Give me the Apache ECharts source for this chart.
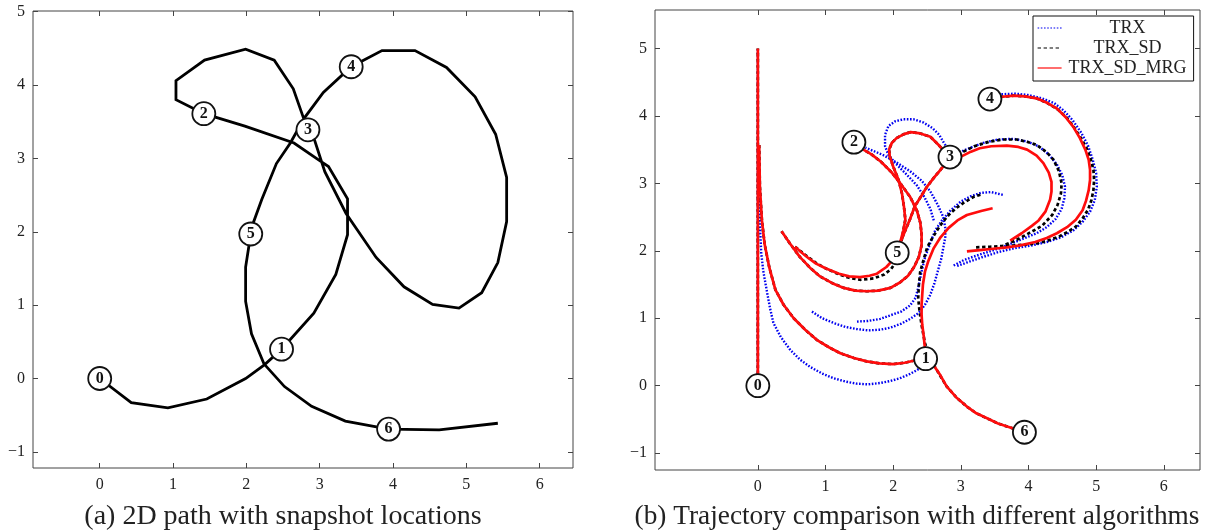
<!DOCTYPE html>
<html>
<head>
<meta charset="utf-8">
<script src="https://cdn.jsdelivr.net/npm/echarts@6/dist/echarts.min.js"></script>
<style>
html,body{margin:0;padding:0;background:#fff}
#chart{width:1209px;height:532px}
</style>
</head>
<body>
<div id="chart"></div>
<script>
// ---- (a) 2D path, snapshot points along it ----
const pathXY = [
  [0,0],[0.43,-0.33],[0.93,-0.40],[1.46,-0.28],[1.99,0.00],[2.25,0.19],[2.48,0.40],
  [2.92,0.89],[3.22,1.42],[3.38,1.96],[3.38,2.45],[3.12,2.89],[3.0,2.97],[2.65,3.21],
  [1.98,3.44],[1.42,3.61],[1.04,3.80],[1.04,4.06],[1.43,4.34],[1.99,4.49],[2.38,4.34],
  [2.64,3.95],[2.78,3.55],[2.84,3.39],[2.93,3.25],[3.07,2.82],[3.36,2.25],[3.77,1.65],
  [4.15,1.25],[4.54,1.01],[4.90,0.96],[5.21,1.17],[5.43,1.58],[5.55,2.14],[5.55,2.74],
  [5.40,3.33],[5.12,3.84],[4.73,4.24],[4.30,4.47],[3.85,4.47],[3.43,4.25],[3.05,3.90],
  [2.79,3.55],[2.60,3.21],[2.41,2.93],[2.21,2.44],[2.09,2.11],[2.06,1.97],[1.99,1.52],
  [1.99,1.05],[2.07,0.61],[2.24,0.20],[2.52,-0.11],[2.89,-0.38],[3.35,-0.58],[3.94,-0.69],
  [4.63,-0.70],[5.43,-0.61]
];
const snapshotLabels = ['0','1','2','3','4','5','6'];
const snapshotXY = [[0,0],[2.48,0.40],[1.42,3.61],[2.84,3.39],[3.43,4.25],[2.06,1.97],[3.94,-0.69]];

// tick values shown on each panel
const xTicksA = [0,1,2,3,4,5,6];
const yTicksA = [-1,0,1,2,3,4,5];
const xTicksB = [0,1,2,3,4,5,6];
const yTicksB = [-1,0,1,2,3,4,5];

// ---- (b) trajectory estimates, one list of pieces per algorithm ----
const startLeg = [[0,0.17],[0,5.0]];

// TRX (dotted)
const trxToSnap1 = [[0.01,3.5],[0.015,3.0],[0.02,2.7],[0.035,2.3],[0.05,1.97],[0.08,1.7],[0.13,1.42],
  [0.18,1.15],[0.23,0.93],[0.34,0.72],[0.48,0.53],[0.62,0.39],[0.77,0.28],[0.95,0.18],[1.12,0.11],
  [1.3,0.06],[1.46,0.03],[1.63,0.02],[1.81,0.04],[1.96,0.07],[2.10,0.11],[2.24,0.17],[2.35,0.23],[2.42,0.28]];
const trxToSnap2 = [[0.80,1.10],[0.95,1.0],[1.12,0.93],[1.30,0.87],[1.46,0.84],[1.63,0.82],[1.81,0.83],
  [1.96,0.86],[2.12,0.92],[2.25,0.99],[2.38,1.08],[2.47,1.2],[2.55,1.35],[2.61,1.52],[2.66,1.7],
  [2.71,1.88],[2.74,2.04],[2.77,2.2],[2.77,2.34],[2.74,2.5],[2.66,2.68],[2.55,2.88],[2.42,3.04],
  [2.25,3.18],[2.05,3.31],[1.85,3.42],[1.59,3.53]];
const trxLoop3 = [[2.60,2.45],[2.55,2.62],[2.46,2.80],[2.35,2.97],[2.20,3.13],[2.05,3.28],[1.93,3.42],
  [1.88,3.55],[1.88,3.72],[1.93,3.85],[2.03,3.92],[2.15,3.95],[2.30,3.95],[2.45,3.9],[2.58,3.82],
  [2.68,3.72],[2.75,3.6],[2.85,3.45],[3.0,3.47],[3.15,3.53],[3.33,3.6],[3.55,3.65],[3.78,3.66],
  [3.98,3.62],[4.15,3.55],[4.30,3.43],[4.42,3.28],[4.50,3.12],[4.54,2.95],[4.53,2.78],[4.49,2.62],
  [4.40,2.47],[4.27,2.35],[4.12,2.26],[3.97,2.2],[3.78,2.12],[3.55,2.03],[3.33,1.96],[3.15,1.9],
  [3.04,1.86],[2.89,1.78]];
const trxArc = [[3.62,2.83],[3.45,2.87],[3.30,2.86],[3.15,2.81],[3.0,2.73],[2.85,2.6],[2.72,2.45],
  [2.62,2.3],[2.55,2.12],[2.47,1.9],[2.42,1.69],[2.37,1.45],[2.33,1.3],[2.25,1.19],[2.12,1.1],
  [1.95,1.04],[1.81,0.99],[1.63,0.96],[1.46,0.95]];
const trxLoop4 = [[3.6,4.32],[3.8,4.33],[3.99,4.31],[4.2,4.26],[4.38,4.19],[4.52,4.08],[4.65,3.94],
  [4.78,3.75],[4.88,3.56],[4.95,3.35],[5.0,3.15],[5.01,2.95],[4.98,2.75],[4.91,2.58],[4.80,2.43],
  [4.66,2.3],[4.48,2.2],[4.27,2.13],[4.05,2.08],[3.8,2.04],[3.55,1.98],[3.3,1.9],[3.1,1.83],[2.93,1.77]];

// TRX_SD_MRG (solid)
const mrgToSnap1 = [[0.02,3.57],[0.03,2.95],[0.06,2.45],[0.1,2.1],[0.17,1.75],[0.26,1.42],[0.38,1.2],
  [0.53,1.0],[0.7,0.83],[0.87,0.68],[1.05,0.57],[1.22,0.48],[1.42,0.41],[1.61,0.36],[1.8,0.33],
  [2.0,0.32],[2.17,0.34],[2.30,0.37],[2.38,0.39]];
const mrgToSnap2 = [[0.35,2.29],[0.48,2.1],[0.62,1.91],[0.77,1.75],[0.92,1.62],[1.1,1.52],[1.27,1.45],
  [1.44,1.41],[1.61,1.40],[1.78,1.41],[1.96,1.45],[2.10,1.53],[2.22,1.63],[2.31,1.76],[2.38,1.91],
  [2.42,2.08],[2.42,2.25],[2.40,2.42],[2.35,2.6],[2.25,2.80],[2.12,2.98],[1.98,3.16],[1.82,3.32],
  [1.68,3.43],[1.56,3.50]];
const mrgUpperLoop = [[0.55,2.06],[0.65,1.97],[0.75,1.89],[0.86,1.81],[1.0,1.74],[1.2,1.66],[1.35,1.62],
  [1.51,1.61],[1.65,1.63],[1.76,1.66],[1.90,1.76],[2.0,1.87],[2.06,1.97],[2.10,2.11],[2.15,2.3],
  [2.18,2.46],[2.16,2.65],[2.13,2.85],[2.08,3.05],[2.0,3.25],[1.95,3.40],[1.94,3.50],[1.98,3.60],
  [2.05,3.67],[2.16,3.73],[2.26,3.76],[2.40,3.74],[2.55,3.69],[2.68,3.56],[2.78,3.45]];
const mrgLoop3 = [[2.06,1.97],[2.10,2.11],[2.17,2.28],[2.25,2.47],[2.32,2.66],[2.42,2.82],[2.50,2.95],
  [2.60,3.08],[2.69,3.19],[2.78,3.30],[2.85,3.37],[2.95,3.38],[3.01,3.40],[3.15,3.47],[3.28,3.52],
  [3.45,3.55],[3.68,3.56],[3.85,3.54],[3.98,3.50],[4.12,3.41],[4.22,3.30],[4.30,3.16],[4.34,3.02],
  [4.34,2.88],[4.32,2.76],[4.25,2.58],[4.15,2.45],[4.05,2.37],[3.90,2.26],[3.73,2.15]];
const mrgLoop4 = [[3.58,4.28],[3.78,4.30],[3.95,4.29],[4.12,4.26],[4.28,4.19],[4.42,4.11],[4.55,3.98],
  [4.66,3.84],[4.76,3.67],[4.84,3.50],[4.89,3.35],[4.91,3.20],[4.91,3.05],[4.89,2.90],[4.85,2.74],
  [4.80,2.6],[4.70,2.46],[4.57,2.35],[4.42,2.26],[4.27,2.19],[4.10,2.13],[3.88,2.08],[3.68,2.05],
  [3.48,2.03],[3.28,2.01],[3.09,1.99]];
const mrgToSnap6 = [[3.47,2.63],[3.30,2.59],[3.09,2.53],[2.95,2.45],[2.82,2.34],[2.70,2.2],[2.60,2.04],
  [2.52,1.85],[2.47,1.69],[2.44,1.5],[2.43,1.35],[2.42,1.2],[2.42,1.05],[2.43,0.9],[2.45,0.75],
  [2.47,0.55],[2.52,0.42],[2.6,0.3],[2.70,0.15],[2.79,-0.01],[2.93,-0.17],[3.09,-0.31],[3.23,-0.41],
  [3.38,-0.48],[3.55,-0.56],[3.73,-0.62],[3.9,-0.68]];

// TRX_SD (dashed)
const sdUpperLoop = [[0.55,2.06],[0.65,1.98],[0.75,1.9],[0.86,1.82],[1.0,1.74],[1.2,1.65],[1.35,1.6],
  [1.51,1.57],[1.71,1.59],[1.87,1.65],[1.97,1.73],[2.05,1.85],[2.10,2.0],[2.15,2.3],[2.18,2.46],
  [2.16,2.65],[2.13,2.85],[2.08,3.05],[2.0,3.25],[1.95,3.40],[1.94,3.50],[1.98,3.60],[2.05,3.67],
  [2.16,3.73],[2.26,3.76],[2.40,3.74],[2.55,3.69],[2.68,3.56],[2.78,3.45]];
const sdLoop3 = [[2.10,2.11],[2.17,2.28],[2.25,2.47],[2.32,2.66],[2.42,2.82],[2.50,2.95],[2.60,3.08],
  [2.69,3.19],[2.78,3.30],[2.88,3.38],[2.96,3.43],[3.04,3.47],[3.2,3.55],[3.43,3.62],[3.63,3.65],
  [3.83,3.65],[4.0,3.61],[4.12,3.57],[4.27,3.46],[4.37,3.35],[4.45,3.18],[4.49,3.0],[4.48,2.85],
  [4.43,2.68],[4.35,2.53],[4.2,2.37],[3.97,2.24],[3.8,2.15],[3.65,2.09]];
const sdLoop4 = [[3.58,4.28],[3.78,4.30],[3.95,4.29],[4.12,4.26],[4.28,4.19],[4.44,4.09],[4.56,3.98],
  [4.66,3.85],[4.77,3.68],[4.86,3.52],[4.92,3.36],[4.96,3.20],[4.97,3.05],[4.96,2.90],[4.93,2.75],
  [4.88,2.61],[4.80,2.48],[4.70,2.36],[4.58,2.28],[4.45,2.21],[4.28,2.15],[4.12,2.11],[3.95,2.09],
  [3.78,2.08],[3.6,2.07],[3.43,2.06],[3.21,2.05]];
const sdToSnap6 = [[3.29,2.83],[3.19,2.80],[3.04,2.71],[2.94,2.64],[2.82,2.53],[2.72,2.41],[2.64,2.29],
  [2.55,2.14],[2.50,2.04],[2.45,1.87],[2.40,1.69],[2.38,1.5],[2.37,1.30],[2.39,1.1],[2.42,0.90],
  [2.47,0.63],[2.53,0.45],[2.61,0.29],[2.70,0.14],[2.79,-0.01],[2.93,-0.17],[3.09,-0.31],[3.23,-0.41],
  [3.38,-0.48],[3.55,-0.56],[3.73,-0.62],[3.9,-0.68]];

const trxPieces = [startLeg, trxToSnap1, trxToSnap2, trxLoop3, trxArc, trxLoop4];
const trxSdPieces = [startLeg, mrgToSnap1, mrgToSnap2, sdUpperLoop, sdLoop3, sdLoop4, sdToSnap6];
const trxSdMrgPieces = [startLeg, mrgToSnap1, mrgToSnap2, mrgUpperLoop, mrgLoop3, mrgLoop4, mrgToSnap6];

// ---- styling ----
const SERIF = '"Liberation Serif", "DejaVu Serif", serif';
const minus = v => String(v).replace('-', '\u2212');
const BLUE = '#0000f0', BLACK = '#000', RED = '#ff0c0c';

function frameAxes(gridIndex, xMin, xMax, yMin, yMax, xTicks, yTicks) {
  const tick = vals => ({ show: true, inside: true, length: 5, customValues: vals,
    lineStyle: { color: '#444', width: 1 } });
  const line = { show: false, onZero: false };
  const label = (vals, margin) => ({ show: true, margin, customValues: vals,
    fontFamily: SERIF, fontSize: 16, color: '#222', formatter: minus });
  const hidden = vals => ({ show: false, customValues: vals });
  const base = { gridIndex, type: 'value', axisLine: line, splitLine: { show: false } };
  const xs = [
    Object.assign({}, base, { min: xMin, max: xMax, position: 'bottom', axisTick: tick(xTicks), axisLabel: label(xTicks, 9) }),
    Object.assign({}, base, { min: xMin, max: xMax, position: 'top', axisTick: tick(xTicks), axisLabel: hidden(xTicks) })
  ];
  const ys = [
    Object.assign({}, base, { min: yMin, max: yMax, position: 'left', axisTick: tick(yTicks), axisLabel: label(yTicks, 8) }),
    Object.assign({}, base, { min: yMin, max: yMax, position: 'right', axisTick: tick(yTicks), axisLabel: hidden(yTicks) })
  ];
  return { xs, ys };
}

const A = frameAxes(0, -0.91, 6.455, -1.22, 5.01, xTicksA, yTicksA);
const B = frameAxes(1, -1.52, 6.535, -1.25, 5.57, xTicksB, yTicksB);

function markerSeries(xAxisIndex, yAxisIndex) {
  return {
    type: 'scatter', xAxisIndex, yAxisIndex, z: 10,
    symbol: 'circle', symbolSize: 23,
    itemStyle: { color: '#fff', borderColor: '#111', borderWidth: 1.8, opacity: 1 },
    label: { show: true, position: 'inside', formatter: p => p.name,
      fontFamily: SERIF, fontWeight: 'bold', fontSize: 16, color: '#111' },
    emphasis: { disabled: true },
    data: snapshotXY.map((xy, i) => ({ name: snapshotLabels[i], value: xy }))
  };
}

function pieceSeries(name, pieces, color, lineStyle) {
  return pieces.map(p => ({
    name, type: 'line', xAxisIndex: 2, yAxisIndex: 2,
    symbol: 'none', itemStyle: { color }, lineStyle: Object.assign({ color }, lineStyle),
    emphasis: { disabled: true }, data: p
  }));
}

const series = [
  { type: 'line', xAxisIndex: 0, yAxisIndex: 0, symbol: 'none', data: pathXY,
    lineStyle: { color: '#000', width: 2.8, join: 'miter' }, emphasis: { disabled: true } },
  markerSeries(0, 0),
  ...pieceSeries('TRX', trxPieces, BLUE, { width: 2.4, type: [1.6, 1.6], cap: 'butt' }),
  ...pieceSeries('TRX_SD', trxSdPieces, BLACK, { width: 2.7, type: [3.4, 2.6], cap: 'butt' }),
  ...pieceSeries('TRX_SD_MRG', trxSdMrgPieces, RED, { width: 2.7 }),
  markerSeries(2, 2)
];

const chart = echarts.init(document.getElementById('chart'));
chart.setOption({
  animation: false,
  backgroundColor: '#fff',
  grid: [
    { left: 33, top: 11, width: 540, height: 457, show: true, borderColor: '#444', borderWidth: 1, backgroundColor: 'transparent' },
    { left: 655, top: 10, width: 545, height: 460, show: true, borderColor: '#444', borderWidth: 1, backgroundColor: 'transparent' }
  ],
  xAxis: [...A.xs, ...B.xs],
  yAxis: [...A.ys, ...B.ys],
  legend: {
    data: ['TRX', 'TRX_SD', 'TRX_SD_MRG'],
    orient: 'vertical', left: 1033, top: 16,
    padding: [3, 5, 4, 4], itemGap: 2, itemWidth: 24, itemHeight: 16,
    backgroundColor: '#fff', borderColor: '#111', borderWidth: 1, borderRadius: 0,
    selectedMode: false,
    lineStyle: { width: 1.2 },
    itemStyle: { opacity: 0 },
    formatter: n => '{c|' + n + '}',
    textStyle: { fontFamily: SERIF, fontSize: 18, lineHeight: 18, color: '#222',
      rich: { c: { width: 122, align: 'center', fontFamily: SERIF, fontSize: 18, lineHeight: 18, color: '#222' } } }
  },
  graphic: [
    { type: 'text', x: 283, y: 517, style: { text: '(a) 2D path with snapshot locations',
      font: '28px "Liberation Serif"', fill: '#222', align: 'center', verticalAlign: 'middle' } },
    { type: 'text', x: 917, y: 517, style: { text: '(b) Trajectory comparison with different algorithms',
      font: '27.3px "Liberation Serif"', fill: '#222', align: 'center', verticalAlign: 'middle' } }
  ],
  series
});
</script>
</body>
</html>
